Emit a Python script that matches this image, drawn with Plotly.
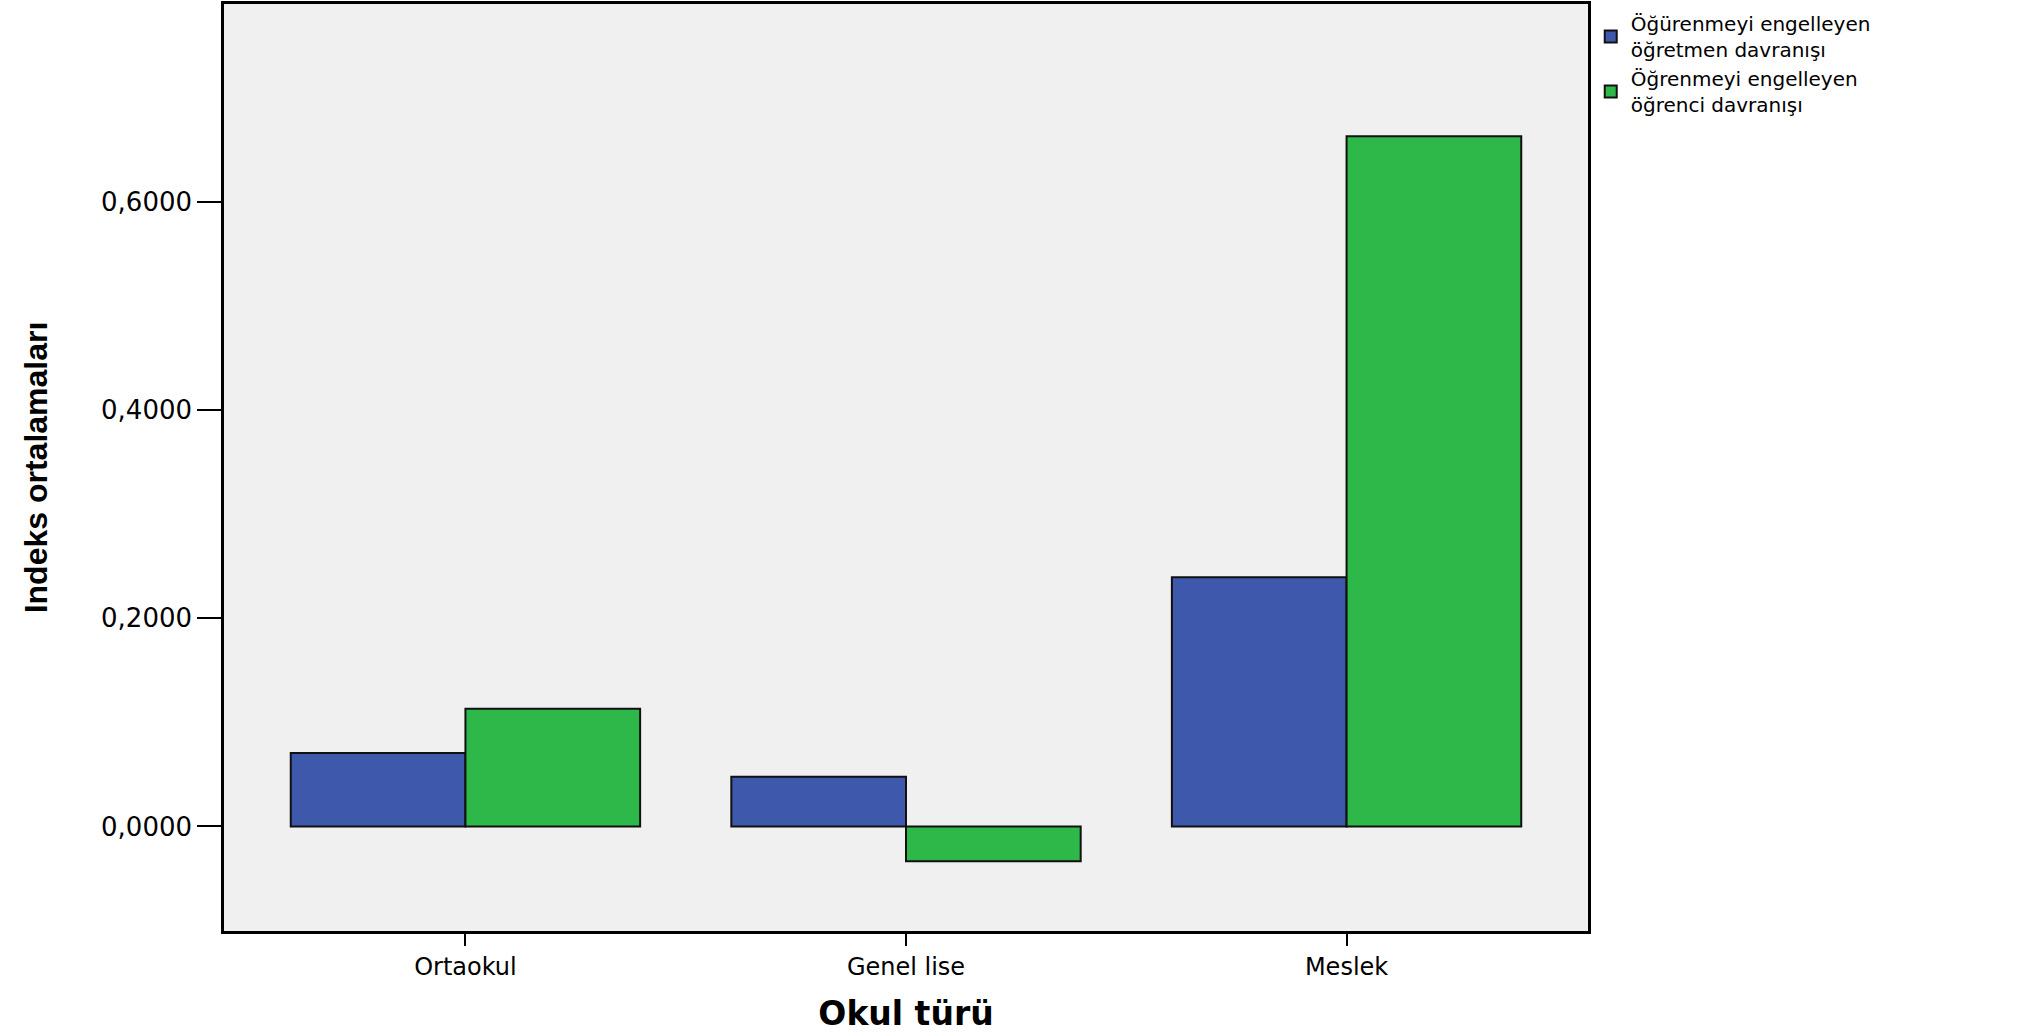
import plotly.graph_objects as go

categories = ["Ortaokul", "Genel lise", "Meslek"]
teacher_vals = [0.0705, 0.0478, 0.2395]
student_vals = [0.1130, -0.0335, 0.6630]
series_names = ["Öğürenmeyi engelleyen<br>öğretmen davranışı",
                "Öğrenmeyi engelleyen<br>öğrenci davranışı"]
y_ticks = [0.0, 0.2, 0.4, 0.6]

blue = "#3E58AC"
green = "#2FB84A"

fig = go.Figure()
fig.add_trace(go.Bar(x=categories, y=teacher_vals, name=series_names[0],
                     marker=dict(color=blue, line=dict(color="#111111", width=2))))
fig.add_trace(go.Bar(x=categories, y=student_vals, name=series_names[1],
                     marker=dict(color=green, line=dict(color="#111111", width=2))))

fig.update_layout(
    width=2044, height=1033,
    margin=dict(l=224, r=456, t=4, b=102, autoexpand=False),
    paper_bgcolor="white",
    plot_bgcolor="#F0F0F0",
    barmode="group",
    bargap=0.207,
    bargroupgap=0,
    separators=",.",
    showlegend=True,
    legend=dict(x=1.002, y=1.0, xanchor="left", yanchor="top",
                font=dict(family="DejaVu Sans", size=20, color="black"),
                bgcolor="rgba(0,0,0,0)", tracegroupgap=0,
                itemsizing="constant"),
    font=dict(family="DejaVu Sans", color="black"),
)

fig.update_xaxes(
    range=[-0.548, 2.548],
    showline=True, linecolor="black", linewidth=2.5, mirror=True,
    ticks="outside", ticklen=12, tickwidth=1.5, tickcolor="black",
    tickfont=dict(family="DejaVu Sans", size=24, color="black"),
    showgrid=False, zeroline=False,
    title=dict(text="Okul türü",
               font=dict(family="DejaVu Sans", size=33, color="black", weight="bold"),
               standoff=24),
)
fig.update_yaxes(
    range=[-0.1004, 0.790],
    tickvals=y_ticks, tickformat=".4f",
    showline=True, linecolor="black", linewidth=2.5, mirror=True,
    ticks="outside", ticklen=24, tickwidth=1.5, tickcolor="black",
    tickfont=dict(family="DejaVu Sans", size=26, color="black"),
    showgrid=False, zeroline=False,
    title=dict(text="Indeks ortalamaları",
               font=dict(family="Liberation Sans", size=32, color="black", weight="bold"),
               standoff=44),
)

fig.write_html("out.html", config={"displayModeBar": False},
               post_script="document.body.style.margin='0';")
